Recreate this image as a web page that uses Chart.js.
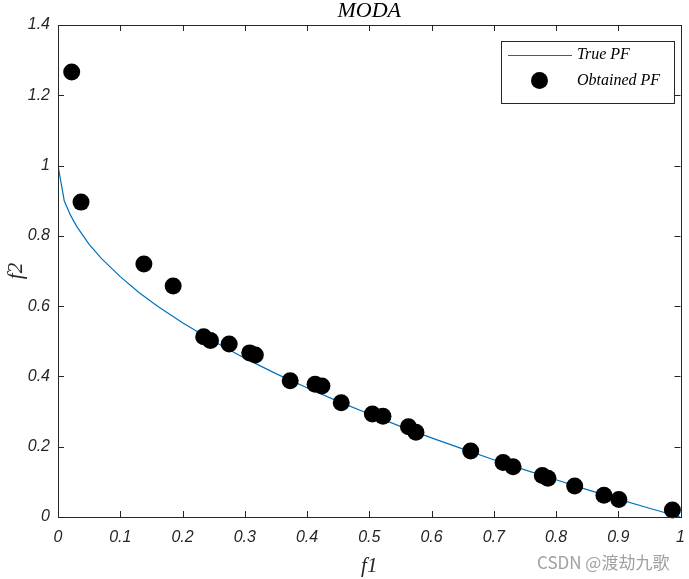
<!DOCTYPE html>
<html><head><meta charset="utf-8">
<script src="https://cdn.jsdelivr.net/npm/chart.js@4"></script>
<style>
html,body{margin:0;padding:0;background:#fff;overflow:hidden}
#wrap{position:relative;width:689px;height:579px}
#wm{position:absolute;left:537px;top:549px;font-family:"Noto Sans CJK SC","Noto Sans",sans-serif;font-size:17px;color:#a0a0a0;white-space:nowrap}
</style></head><body>
<div id="wrap"><canvas id="c" width="689" height="579"></canvas><div id="wm">CSDN @渡劫九歌</div></div>
<script>
// True Pareto front
const trueF1 = [0, 0.01, 0.02, 0.03, 0.05, 0.07, 0.1, 0.13, 0.16, 0.2, 0.25, 0.3, 0.35, 0.4, 0.45, 0.5, 0.55, 0.6, 0.65, 0.7, 0.75, 0.8, 0.85, 0.9, 0.95, 1];
const trueF2 = [1, 0.9, 0.859, 0.827, 0.776, 0.735, 0.684, 0.639, 0.6, 0.553, 0.5, 0.452, 0.408, 0.368, 0.329, 0.293, 0.258, 0.225, 0.194, 0.163, 0.134, 0.106, 0.078, 0.051, 0.025, 0];
// Obtained Pareto front (MODA)
const obtF1 = [0.022, 0.037, 0.138, 0.185, 0.234, 0.245, 0.275, 0.308, 0.317, 0.373, 0.413, 0.424, 0.455, 0.505, 0.522, 0.563, 0.575, 0.663, 0.715, 0.731, 0.778, 0.787, 0.830, 0.877, 0.901, 0.987];
const obtF2 = [1.266, 0.896, 0.720, 0.657, 0.513, 0.502, 0.492, 0.467, 0.461, 0.388, 0.378, 0.373, 0.325, 0.293, 0.287, 0.257, 0.241, 0.188, 0.155, 0.143, 0.118, 0.110, 0.088, 0.062, 0.050, 0.020];
const xTickLabels = ['0','0.1','0.2','0.3','0.4','0.5','0.6','0.7','0.8','0.9','1'];
const yTickLabels = ['0','0.2','0.4','0.6','0.8','1','1.2','1.4'];

const LINE_COLOR = '#0072BD';
const AX = '#262626';
const SERIF = '"Liberation Serif","DejaVu Serif",serif';
const SANS = '"Liberation Sans","DejaVu Sans",sans-serif';

const decor = {
  id: 'decor',
  afterDraw(chart) {
    const ctx = chart.ctx, a = chart.chartArea;
    const xs = chart.scales.x, ys = chart.scales.y;
    ctx.save();
    ctx.strokeStyle = AX; ctx.lineWidth = 1;
    ctx.strokeRect(Math.round(a.left) + 0.5, Math.round(a.top) + 0.5, Math.round(a.right - a.left), Math.round(a.bottom - a.top));
    const tl = 6;
    ctx.beginPath();
    xs.ticks.forEach(t => {
      const px = Math.round(xs.getPixelForValue(t.value)) + 0.5;
      ctx.moveTo(px, a.bottom); ctx.lineTo(px, a.bottom - tl);
      ctx.moveTo(px, a.top); ctx.lineTo(px, a.top + tl);
    });
    ys.ticks.forEach(t => {
      const py = Math.round(ys.getPixelForValue(t.value)) + 0.5;
      ctx.moveTo(a.left, py); ctx.lineTo(a.left + tl, py);
      ctx.moveTo(a.right, py); ctx.lineTo(a.right - tl, py);
    });
    ctx.stroke();

    // title
    ctx.fillStyle = '#000';
    ctx.font = 'italic 22px ' + SERIF;
    ctx.textAlign = 'center'; ctx.textBaseline = 'middle';
    ctx.fillText('MODA', (a.left + a.right) / 2, 11);
    // axis labels
    ctx.fillStyle = AX;
    ctx.font = 'italic 21px ' + SERIF;
    ctx.fillText('f1', (a.left + a.right) / 2, 566);
    ctx.save();
    ctx.translate(16, (a.top + a.bottom) / 2);
    ctx.rotate(-Math.PI / 2);
    ctx.fillText('f2', 0, 0);
    ctx.restore();

    // legend
    const lx = 501.5, ly = 41.5, lw = 173, lh = 62;
    ctx.fillStyle = '#fff';
    ctx.fillRect(lx, ly, lw, lh);
    ctx.strokeStyle = AX; ctx.lineWidth = 1;
    ctx.strokeRect(lx, ly, lw, lh);
    ctx.strokeStyle = LINE_COLOR; ctx.lineWidth = 1.2;
    ctx.beginPath(); ctx.moveTo(508, 55.5); ctx.lineTo(572, 55.5); ctx.stroke();
    ctx.fillStyle = '#000';
    ctx.beginPath(); ctx.arc(539.5, 80.5, 8.5, 0, Math.PI * 2); ctx.fill();
    ctx.font = 'italic 16px ' + SERIF;
    ctx.textAlign = 'left'; ctx.textBaseline = 'middle';
    ctx.fillText('True PF', 577, 55);
    ctx.fillText('Obtained PF', 577, 81);
    ctx.restore();
  }
};

new Chart(document.getElementById('c'), {
  type: 'scatter',
  data: {
    datasets: [
      {
        label: 'Obtained PF',
        data: obtF1.map((x, i) => ({x, y: obtF2[i]})),
        pointRadius: 8.5, pointHoverRadius: 8.5,
        backgroundColor: '#000', borderColor: '#000', borderWidth: 0,
        clip: false, order: 0
      },
      {
        label: 'True PF',
        data: trueF1.map((x, i) => ({x, y: trueF2[i]})),
        showLine: true, pointRadius: 0, borderColor: LINE_COLOR, borderWidth: 1.2,
        tension: 0, order: 1
      }
    ]
  },
  options: {
    responsive: false, animation: false, devicePixelRatio: 1,
    layout: {padding: {top: 25, right: 7, left: 0, bottom: 0}},
    plugins: {legend: {display: false}, tooltip: {enabled: false}, title: {display: false}},
    scales: {
      x: {
        type: 'linear', min: 0, max: 1,
        grid: {display: false, drawTicks: false}, border: {display: false},
        ticks: {stepSize: 0.1, autoSkip: false, maxRotation: 0, padding: 11, color: AX,
          font: {family: SANS, style: 'italic', size: 16},
          callback: (v, i) => xTickLabels[i]},
        afterFit: s => { s.height = 62; s.paddingLeft = 0; s.paddingRight = 0; }
      },
      y: {
        type: 'linear', min: 0, max: 1.4,
        grid: {display: false, drawTicks: false}, border: {display: false},
        ticks: {stepSize: 0.2, autoSkip: false, padding: 8, color: AX,
          font: {family: SANS, style: 'italic', size: 16},
          callback: (v, i) => yTickLabels[i]},
        afterFit: s => { s.width = 58; s.paddingTop = 0; s.paddingBottom = 0; }
      }
    }
  },
  plugins: [decor]
});
</script>
</body></html>
